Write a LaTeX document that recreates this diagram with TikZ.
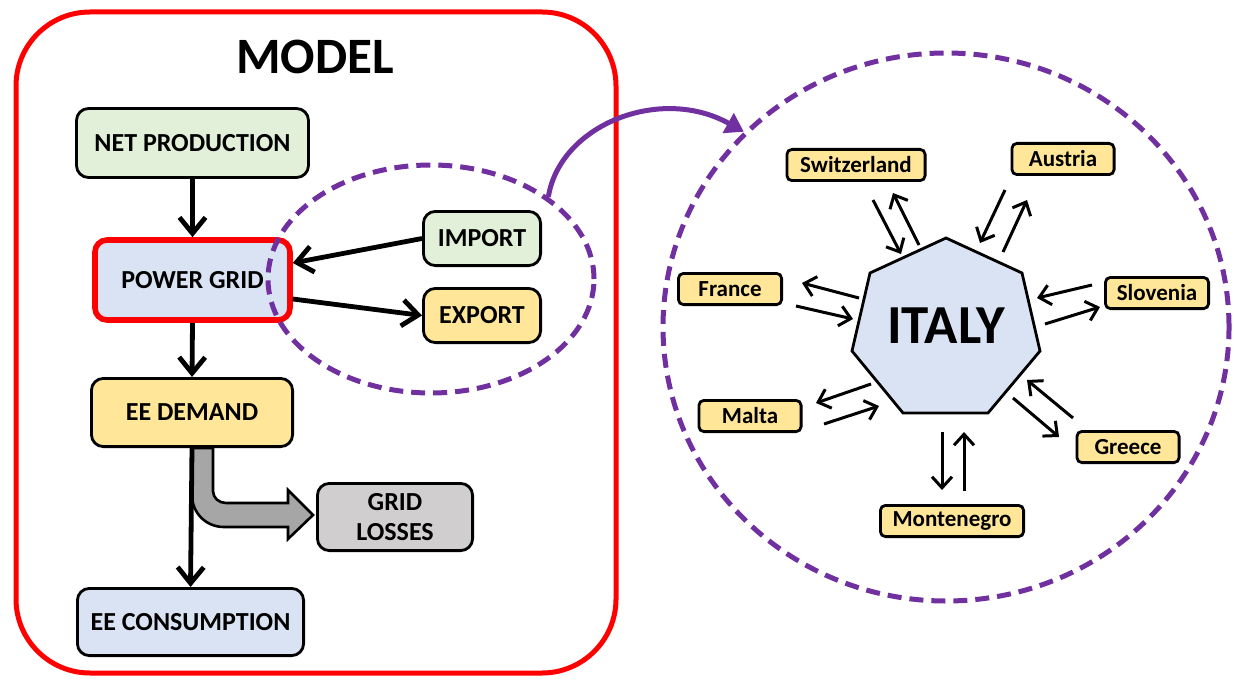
\documentclass[tikz,border=0pt]{standalone}
\usepackage{fontspec}
\setmainfont{Carlito}
\usetikzlibrary{arrows.meta,shapes.geometric}

\definecolor{boxgreen}{HTML}{E2F0D9}
\definecolor{boxblue}{HTML}{DAE3F3}
\definecolor{boxyellow}{HTML}{FFE699}
\definecolor{boxgray}{HTML}{D0CECE}
\definecolor{flowgray}{HTML}{A6A6A6}
\definecolor{linkpurple}{HTML}{7030A0}
\definecolor{framered}{HTML}{FF0000}

\begin{document}
\begin{tikzpicture}[x=0.5pt,y=-0.5pt,
  modelbox/.style={draw=black, line width=1.4pt, rounded corners=6pt,
    font=\fontsize{13}{15}\selectfont\bfseries, inner sep=0pt, align=center},
  countrybox/.style={draw=black, line width=1.4pt, rounded corners=2.5pt,
    fill=boxyellow, font=\fontsize{11.5}{13}\selectfont\bfseries,
    inner sep=0pt, minimum height=15.6pt},
  flow/.style={line width=2.4pt, -{Straight Barb[length=8pt,width=13pt,line width=2.4pt]}},
  trade/.style={line width=1.5pt, -{Straight Barb[length=5.5pt,width=10pt,line width=1.5pt]}},
  purpledash/.style={draw=linkpurple, line width=2.5pt, dash pattern=on 7pt off 4pt},
]
\useasboundingbox (0,0) rectangle (1234,679);

% ---------- model frame ----------
\draw[framered, line width=2.5pt, rounded corners=37pt] (16,12) rectangle (616,673);
\node[font=\fontsize{25.5}{28}\selectfont\bfseries] (title) at (315,57) {MODEL};

% ---------- model blocks ----------
\node[modelbox, fill=boxgreen, minimum width=116pt, minimum height=34.5pt] (net) at (192.5,143) {NET PRODUCTION};
\node[modelbox, fill=boxblue, draw=framered, line width=2.8pt, minimum width=97.5pt, minimum height=40pt] (pg) at (192.5,280) {POWER GRID};
\node[modelbox, fill=boxgreen, minimum width=58.6pt, minimum height=27.1pt] (imp) at (482,238.5) {IMPORT};
\node[modelbox, fill=boxyellow, minimum width=58.6pt, minimum height=27.1pt] (exp) at (482,315.5) {EXPORT};
\node[modelbox, fill=boxyellow, minimum width=100.6pt, minimum height=34.1pt] (eed) at (192,412.5) {EE DEMAND};
\node[modelbox, fill=boxgray, minimum width=77.6pt, minimum height=33.6pt] (loss) at (395,517) {GRID\\LOSSES};
\node[modelbox, fill=boxblue, minimum width=113.1pt, minimum height=33.6pt] (cons) at (190.5,622) {EE CONSUMPTION};

% exchange zone around import / export
\node[ellipse, purpledash, minimum width=163pt, minimum height=114pt, inner sep=0pt] (zone) at (431,279) {};

% ---------- flows ----------
\draw[flow] (net.south) -- (pg.north);
\draw[flow] (imp.west) -- ([yshift=8.5pt]pg.east);
\draw[flow] ([yshift=-9.5pt]pg.east) -- (exp.west);
\draw[flow] (pg.south) -- (eed.north);

% losses branch (wide bent arrow)
\draw[line width=1.3pt, fill=flowgray, line join=miter]
  (192,448) -- (192,495) .. controls (192,513) and (206,527) .. (224,527)
  -- (288,527) -- (288,539) -- (313,515) -- (288,490) -- (288,503)
  -- (226,503) .. controls (219,503) and (213,498) .. (213,491)
  -- (213,448) -- cycle;
\draw[flow] (eed.south) -- (cons.north);

% ---------- neighbouring countries ----------
\node[ellipse, purpledash, minimum width=283pt, minimum height=274pt, inner sep=0pt] (ring) at (946,327) {};

\draw[linkpurple, line width=2.5pt, -{Triangle[length=9pt,width=11pt]}]
  (zone.35) .. controls (560,125) and (660,85) .. (ring.136);

\draw[line width=1.4pt, fill=boxblue, line join=miter]
  (946,238) -- (1022,273) -- (1040,351) -- (988,413) -- (903,413)
  -- (852,351) -- (870,273) -- cycle;
\node[font=\fontsize{27.5}{30}\selectfont\bfseries] (italy) at (946,326) {ITALY};

\node[countrybox, minimum width=69.1pt] (sw) at (856,165) {Switzerland};
\node[countrybox, minimum width=51.1pt] (at) at (1063,159) {Austria};
\node[countrybox, minimum width=51.6pt] (fr) at (730,289) {France};
\node[countrybox, minimum width=51.6pt] (si) at (1157,293) {Slovenia};
\node[countrybox, minimum width=51.1pt] (mt) at (750,416) {Malta};
\node[countrybox, minimum width=51.1pt] (gr) at (1128,447) {Greece};
\node[countrybox, minimum width=71.6pt] (me) at (952,521) {Montenegro};

% paired exchange arrows
\draw[trade] (873,200) -- (901,254);
\draw[trade] (919,245) -- (893,193);
\draw[trade] (1005,190) -- (980,243);
\draw[trade] (1003,252) -- (1027,200);
\draw[trade] (859,298) -- (802,283);
\draw[trade] (796,306) -- (853,319);
\draw[trade] (1092,285) -- (1037,298);
\draw[trade] (1045,324) -- (1100,307);
\draw[trade] (871,384) -- (816,403);
\draw[trade] (824,424) -- (879,406);
\draw[trade] (1073,418) -- (1027,380);
\draw[trade] (1013,398) -- (1059,437);
\draw[trade] (942,432) -- (942,490);
\draw[trade] (964,491) -- (964,432);
\end{tikzpicture}
\end{document}
